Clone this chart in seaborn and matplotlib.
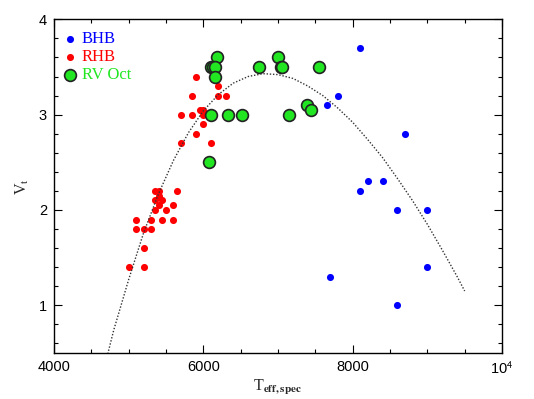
import numpy as np
import pandas as pd
import matplotlib
matplotlib.use('Agg')
import matplotlib.pyplot as plt
import seaborn as sns
from matplotlib.ticker import MultipleLocator, FuncFormatter

# BHB stars
bhb_teff = [8100, 7800, 7650, 8700, 8200, 8400, 8100, 8600, 9000, 9000, 7700, 8600]
bhb_vt = [3.7, 3.2, 3.1, 2.8, 2.3, 2.3, 2.2, 2.0, 2.0, 1.4, 1.3, 1.0]

# RHB stars
rhb_teff = [5900, 6200, 5850, 6200, 6300, 5950, 6000, 5700, 5850, 6000, 6000, 5900, 5700, 6100,
            5350, 5400, 5650, 5400, 5350, 5450, 5400, 5600, 5350, 5500, 5100, 5300, 5450, 5600,
            5100, 5200, 5300, 5200, 5000, 5200]
rhb_vt = [3.4, 3.3, 3.2, 3.2, 3.2, 3.05, 3.05, 3.0, 3.0, 3.0, 2.9, 2.8, 2.7, 2.7,
          2.2, 2.2, 2.2, 2.15, 2.1, 2.1, 2.05, 2.05, 2.0, 2.0, 1.9, 1.9, 1.9, 1.9,
          1.8, 1.8, 1.8, 1.6, 1.4, 1.4]

# RV Oct
rvoct_teff = [6180, 7000, 6100, 6130, 6160, 6750, 7040, 7060, 7550, 6160,
              6100, 6330, 6520, 7150, 7390, 7440, 6070]
rvoct_vt = [3.6, 3.6, 3.5, 3.5, 3.5, 3.5, 3.5, 3.5, 3.5, 3.4,
            3.0, 3.0, 3.0, 3.0, 3.1, 3.05, 2.5]

# fitted relation
fit_teff = [4720, 4800, 5000, 5200, 5400, 5600, 5800, 6000, 6200, 6400, 6600, 6800, 7000,
            7200, 7400, 7600, 7800, 8000, 8200, 8400, 8600, 8800, 9000, 9200, 9400, 9500]
fit_vt = [0.49, 0.74, 1.27, 1.76, 2.17, 2.52, 2.81, 3.04, 3.21, 3.33, 3.40, 3.43, 3.42,
          3.38, 3.30, 3.20, 3.07, 2.92, 2.74, 2.55, 2.33, 2.10, 1.85, 1.58, 1.30, 1.15]

sns.set_theme(style='ticks')
plt.rcParams['font.family'] = ['Liberation Sans', 'DejaVu Sans']
plt.rcParams['mathtext.fontset'] = 'stix'

fig = plt.figure(figsize=(5.34, 3.99), dpi=100)
ax = fig.add_axes([0.1011, 0.1153, 0.8390, 0.8363])

green = '#22e622'
sns.scatterplot(x=bhb_teff, y=bhb_vt, ax=ax, color='#0000ff', s=26, linewidth=0,
                label='BHB', zorder=2)
sns.scatterplot(x=rhb_teff, y=rhb_vt, ax=ax, color='#ff0000', s=26, linewidth=0,
                label='RHB', zorder=2)
sns.scatterplot(x=rvoct_teff, y=rvoct_vt, ax=ax, color=green, s=72, edgecolor='#222222',
                linewidth=1.2, label='RV Oct', zorder=3)
fit_df = pd.DataFrame({'teff': fit_teff, 'vt': fit_vt})
sns.lineplot(data=fit_df, x='teff', y='vt', ax=ax, sort=False, color='#333333',
             linewidth=1.0, linestyle=(0, (1, 1.3)), zorder=4)

ax.set_xlim(4000, 10000)
ax.set_ylim(0.5, 4)
ax.xaxis.set_major_locator(MultipleLocator(2000))
ax.xaxis.set_minor_locator(MultipleLocator(500))
ax.yaxis.set_major_locator(MultipleLocator(1))
ax.yaxis.set_minor_locator(MultipleLocator(0.2))
ax.xaxis.set_major_formatter(FuncFormatter(
    lambda v, p: r'10$^{\mathsf{4}}$' if v >= 10000 else f'{int(v)}'))
ax.yaxis.set_major_formatter(FuncFormatter(lambda v, p: f'{int(v)}'))

ax.tick_params(which='both', direction='in', top=True, right=True, colors='black',
               labelsize=10.5, width=0.8)
ax.tick_params(which='major', length=5.5, pad=5)
ax.tick_params(which='minor', length=2.8)
for sp in ax.spines.values():
    sp.set_linewidth(1.0)
    sp.set_color('black')
ax.grid(False)

ax.set_xlabel(r'T$_{\mathbf{eff,spec}}$', family='Liberation Serif', fontsize=11.5, labelpad=1)
ax.set_ylabel(r'V$_{\mathrm{t}}$', family='Liberation Serif', fontsize=11.5, labelpad=6)

leg = ax.legend(loc='upper left', bbox_to_anchor=(-0.009, 0.999), frameon=False,
                prop={'family': 'Liberation Serif', 'size': 12},
                handletextpad=0.22, labelspacing=0.12, borderaxespad=0.3,
                handlelength=1.0)
for txt, col in zip(leg.get_texts(), ['#0000ff', '#ff0000', green]):
    txt.set_color(col)

fig.savefig('out.png', dpi=100)
